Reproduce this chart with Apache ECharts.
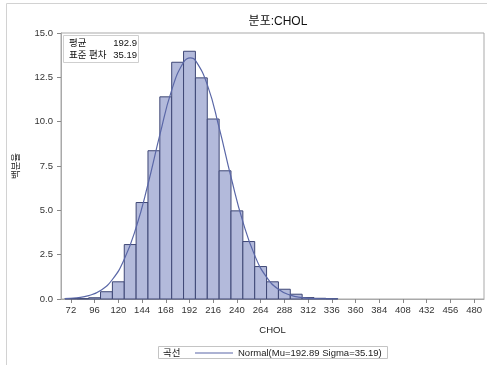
<!DOCTYPE html>
<html>
<head>
<meta charset="utf-8">
<script src="https://cdn.jsdelivr.net/npm/echarts@6/dist/echarts.min.js"></script>
<style>html,body{margin:0;padding:0;background:#fff;}#c{width:487px;height:365px;}</style>
</head>
<body>
<div id="c"></div>
<script>
// ---- data ----
const binWidth = 12;
const binCenters = [72,84,96,108,120,132,144,156,168,180,192,204,216,228,240,252,264,276,288,300,312,324,336];
const percents = [0.03,0.02,0.07,0.41,0.97,3.07,5.44,8.36,11.4,13.35,13.97,12.47,10.15,7.23,4.97,3.24,1.83,0.97,0.55,0.27,0.08,0.04,0.02];
const curveX = [66,78,90,102,114,126,138,150,162,174,186,193,198,210,222,234,246,258,270,282,294,306,318,330,342];
const curveY = [0.02,0.07,0.19,0.48,1.10,2.24,4.03,6.47,9.25,11.78,13.35,13.60,13.46,12.09,9.66,6.88,4.36,2.46,1.23,0.55,0.22,0.08,0.02,0.01,0.00];
const xTicks = [72,96,120,144,168,192,216,240,264,288,312,336,360,384,408,432,456,480];
const yTicks = [0,2.5,5,7.5,10,12.5,15];
const titleText = '분포:CHOL';
const xName = 'CHOL';
const yName = '백분율';
const curveName = 'Normal(Mu=192.89 Sigma=35.19)';
const legendTitle = '곡선';
const statLabels = ['평균', '표준 편차'];
const statValues = ['192.9', '35.19'];

const FONT = "'Liberation Sans','Noto Sans CJK KR',sans-serif";
const chart = echarts.init(document.getElementById('c'), null, {renderer: 'canvas'});

const histData = binCenters.map((c, i) => [c, percents[i]]);
const curveData = curveX.map((x, i) => [x, curveY[i]]);

chart.setOption({
  animation: false,
  backgroundColor: '#fff',
  title: {
    text: titleText, left: 273, top: 11, textAlign: 'center',
    textStyle: {fontFamily: FONT, fontSize: 12, fontWeight: 'normal', color: '#111'}
  },
  grid: {left: 61, right: 3, top: 33, bottom: 66, show: true, borderColor: '#a9a9a9', borderWidth: 1, backgroundColor: 'transparent'},
  xAxis: {
    type: 'value', min: 62, max: 490,
    name: xName, nameLocation: 'middle', nameGap: 27,
    nameTextStyle: {fontFamily: FONT, fontSize: 9.5, color: '#222'},
    axisLine: {show: true, lineStyle: {color: '#a9a9a9'}},
    axisTick: {show: true, length: 4, customValues: xTicks, lineStyle: {color: '#888'}},
    axisLabel: {customValues: xTicks, margin: 7, fontFamily: FONT, fontSize: 9.5, color: '#333'},
    splitLine: {show: false}
  },
  yAxis: {
    type: 'value', min: 0, max: 15, interval: 2.5,
    name: yName, nameLocation: 'middle', nameGap: 40, nameRotate: 90,
    nameTextStyle: {fontFamily: FONT, fontSize: 9.5, color: '#222'},
    axisLine: {show: true, lineStyle: {color: '#a9a9a9'}},
    axisTick: {show: true, length: 4, lineStyle: {color: '#888'}},
    axisLabel: {margin: 8, fontFamily: FONT, fontSize: 9.5, color: '#333', formatter: v => v.toFixed(1)},
    splitLine: {show: false}
  },
  legend: {
    show: true, data: [{name: curveName, icon: 'rect'}], left: 195, top: 347, itemWidth: 38, itemHeight: 1, itemGap: 4, padding: 0,
    itemStyle: {color: '#5a67a7'},
    textStyle: {fontFamily: FONT, fontSize: 9.5, color: '#222', lineHeight: 12}
  },
  series: [
    {
      type: 'custom', name: 'hist', data: histData, encode: {x: 0, y: 1}, z: 2,
      renderItem: function (params, api) {
        const c = api.value(0), v = api.value(1);
        const p1 = api.coord([c - binWidth / 2, v]);
        const p2 = api.coord([c + binWidth / 2, 0]);
        return {
          type: 'rect',
          shape: {x: p1[0], y: p1[1], width: p2[0] - p1[0], height: p2[1] - p1[1]},
          style: {fill: '#b3badb', stroke: '#3e4775', lineWidth: 1}
        };
      }
    },
    {
      type: 'line', name: curveName, data: curveData, smooth: true, symbol: 'none', z: 3,
      lineStyle: {color: '#5a67a7', width: 1.2}, itemStyle: {color: '#5a67a7'}
    }
  ],
  graphic: [
    {type: 'rect', z: -10, silent: true, shape: {x: 6.5, y: 3.5, width: 520, height: 420}, style: {fill: 'none', stroke: '#d2d2d2', lineWidth: 1}},
    {type: 'rect', z: 10, shape: {x: 63.5, y: 35.5, width: 75, height: 27}, style: {fill: '#fff', stroke: '#cfcfcf', lineWidth: 1}},
    {type: 'text', z: 11, left: 69, top: 39, style: {text: statLabels[0], font: '9.5px ' + FONT, fill: '#111'}},
    {type: 'text', z: 11, left: 69, top: 51, style: {text: statLabels[1], font: '9.5px ' + FONT, fill: '#111'}},
    {type: 'text', z: 11, right: 487 - 137, top: 39, style: {text: statValues[0], font: '9.5px ' + FONT, fill: '#111', textAlign: 'right'}},
    {type: 'text', z: 11, right: 487 - 137, top: 51, style: {text: statValues[1], font: '9.5px ' + FONT, fill: '#111', textAlign: 'right'}},
    {type: 'rect', z: 10, shape: {x: 158.5, y: 346.5, width: 229, height: 12}, style: {fill: 'none', stroke: '#c4c4c4', lineWidth: 1}},
    {type: 'text', z: 11, left: 163, top: 348.5, style: {text: legendTitle, font: '9.5px ' + FONT, fill: '#111'}}
  ]
});
</script>
</body>
</html>
